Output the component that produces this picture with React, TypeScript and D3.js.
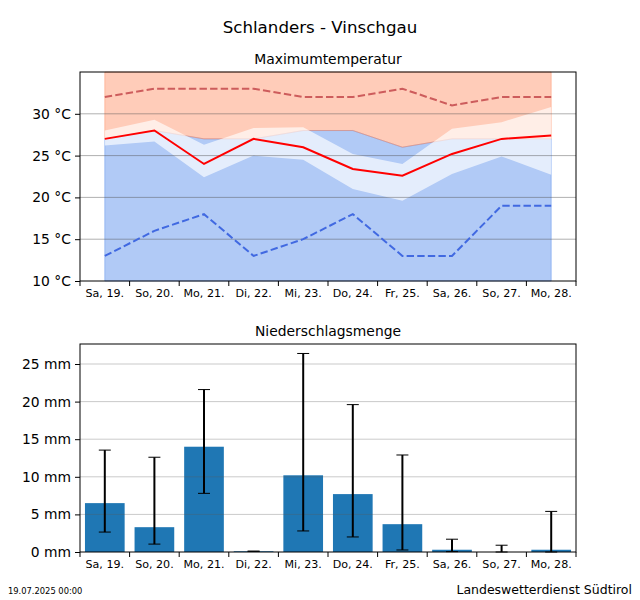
import * as d3 from 'd3';
import React, { useEffect, useRef } from 'react';

const days = ['Sa, 19.', 'So, 20.', 'Mo, 21.', 'Di, 22.', 'Mi, 23.', 'Do, 24.', 'Fr, 25.', 'Sa, 26.', 'So, 27.', 'Mo, 28.'];

// temperature, degrees
const tempMedian = [27, 28, 24, 27, 26, 23.4, 22.6, 25.2, 27, 27.4];
const tempHigh = [32, 33, 33, 33, 32, 32, 33, 31, 32, 32];
const tempLow = [13, 16, 18, 13, 15, 18, 13, 13, 19, 19];
const tempSplit = [27, 28, 27, 27, 28, 28, 26, 27, 27, 27];
const bandLower = [26.2, 26.7, 22.4, 25, 24.5, 21, 19.6, 22.8, 24.9, 22.7];
const bandUpper = [28, 29.3, 26.3, 28.3, 28.4, 25.2, 24, 28.2, 29, 30.8];
const tempTicks = [10, 15, 20, 25, 30];

// precipitation, mm
const rain = [6.5, 3.3, 14, 0.1, 10.2, 7.7, 3.7, 0.3, 0, 0.3];
const rainLower = [2.65, 1.05, 7.8, 0.1, 2.8, 2, 0.27, 0.05, 0, 0];
const rainUpper = [13.55, 12.6, 21.6, 0.1, 26.4, 19.6, 12.9, 1.7, 0.9, 5.4];
const rainTicks = [0, 5, 10, 15, 20, 25];

const FONT = '"DejaVu Sans", sans-serif';

const App = () => {
  const svgRef = useRef<SVGSVGElement | null>(null);

  useEffect(() => {
    if (!svgRef.current) {
      return;
    }
    const svg = d3.select(svgRef.current);
    svg.selectAll('*').remove();
    svg.style('font-family', FONT);

    const x = d3.scaleBand<string>().domain(days).range([80, 576]);
    const cx = (i: number) => (x(days[i]) as number) + x.bandwidth() / 2;
    const yT = d3.scaleLinear().domain([10, 35]).range([281, 72]);
    const yR = d3.scaleLinear().domain([0, 27.66]).range([552, 344]);
    const idx = d3.range(days.length);

    const area = (lo: (i: number) => number, hi: (i: number) => number) =>
      d3.area<number>().x(cx).y0((i) => yT(lo(i))).y1((i) => yT(hi(i)));
    const line = (vals: number[]) => d3.line<number>().x(cx).y((i) => yT(vals[i]));

    const drawFrame = (y: d3.ScaleLinear<number, number>, ticks: number[], unit: string, title: string) => {
      const [bottom, top] = y.range();
      svg.append('rect').attr('x', 80).attr('y', top).attr('width', 496).attr('height', bottom - top)
        .attr('fill', 'none').attr('stroke', '#000').attr('stroke-width', 1);

      const left = svg.append('g').attr('transform', 'translate(80,0)')
        .call(d3.axisLeft(y).tickValues(ticks).tickSize(5).tickPadding(4).tickFormat((d) => `${d} ${unit}`));
      left.select('.domain').remove();
      left.selectAll('.tick text').style('font-size', '13.89px').style('font-family', FONT).attr('fill', '#000');

      const bottomAxis = svg.append('g').attr('transform', `translate(0,${bottom})`)
        .call(d3.axisBottom(x).tickSize(0).tickPadding(8));
      bottomAxis.select('.domain').remove();
      bottomAxis.selectAll('.tick text').style('font-size', '11.1px').style('font-family', FONT).attr('fill', '#000');

      // ticks sit between the days, not under them
      const edges = [...days.map((d) => x(d) as number), 576];
      svg.append('g').selectAll('line').data(edges).enter().append('line')
        .attr('x1', (d) => d).attr('x2', (d) => d)
        .attr('y1', bottom).attr('y2', bottom + 5)
        .attr('stroke', '#000').attr('stroke-width', 1);

      svg.append('text').attr('x', 328).attr('y', top - 8).attr('text-anchor', 'middle')
        .style('font-size', '13.89px').text(title);
    };

    const drawGrid = (y: d3.ScaleLinear<number, number>, ticks: number[], color: string) => {
      svg.append('g').selectAll('line').data(ticks.filter((t) => t > y.domain()[0])).enter().append('line')
        .attr('x1', 80).attr('x2', 576)
        .attr('y1', (d) => y(d)).attr('y2', (d) => y(d))
        .attr('stroke', color).attr('stroke-width', 1);
    };

    // Temperature panel
    svg.append('path').datum(idx).attr('d', area(() => 10, (i) => tempSplit[i]))
      .attr('fill', '#6495ed').attr('fill-opacity', 0.5)
      .attr('stroke', '#6495ed').attr('stroke-opacity', 0.5);
    svg.append('path').datum(idx).attr('d', area((i) => tempSplit[i], () => 35))
      .attr('fill', '#ff7f50').attr('fill-opacity', 0.4)
      .attr('stroke', '#ff7f50').attr('stroke-opacity', 0.4);
    svg.append('path').datum(idx).attr('d', area((i) => bandLower[i], (i) => bandUpper[i]))
      .attr('fill', '#fff').attr('fill-opacity', 0.66);
    drawGrid(yT, tempTicks, 'rgba(80,80,80,0.45)');
    svg.append('path').datum(idx).attr('d', line(tempHigh)).attr('fill', 'none')
      .attr('stroke', '#cd5c5c').attr('stroke-width', 2).attr('stroke-dasharray', '7.4,3.2');
    svg.append('path').datum(idx).attr('d', line(tempLow)).attr('fill', 'none')
      .attr('stroke', '#4169e1').attr('stroke-width', 2).attr('stroke-dasharray', '7.4,3.2');
    svg.append('path').datum(idx).attr('d', line(tempMedian)).attr('fill', 'none')
      .attr('stroke', '#ff0000').attr('stroke-width', 2);
    drawFrame(yT, tempTicks, '°C', 'Maximumtemperatur');

    // Precipitation panel
    const barW = x.bandwidth() * 0.8;
    svg.append('g').selectAll('rect').data(idx).enter().append('rect')
      .attr('x', (i) => cx(i) - barW / 2).attr('width', barW)
      .attr('y', (i) => yR(rain[i])).attr('height', (i) => yR(0) - yR(rain[i]))
      .attr('fill', '#1f77b4');
    drawGrid(yR, rainTicks, 'rgba(90,90,90,0.32)');

    const err = svg.append('g').attr('stroke', '#000');
    idx.forEach((i) => {
      err.append('line').attr('x1', cx(i)).attr('x2', cx(i))
        .attr('y1', yR(rainLower[i])).attr('y2', yR(rainUpper[i])).attr('stroke-width', 2);
      [rainLower[i], rainUpper[i]].forEach((v) => {
        err.append('line').attr('x1', cx(i) - 6).attr('x2', cx(i) + 6)
          .attr('y1', yR(v)).attr('y2', yR(v)).attr('stroke-width', 1);
      });
    });
    drawFrame(yR, rainTicks, 'mm', 'Niederschlagsmenge');

    svg.append('text').attr('x', 320).attr('y', 33).attr('text-anchor', 'middle')
      .style('font-size', '16.67px').text('Schlanders - Vinschgau');
    svg.append('text').attr('x', 8).attr('y', 594).style('font-size', '8.33px').text('19.07.2025 00:00');
    svg.append('text').attr('x', 632).attr('y', 594).attr('text-anchor', 'end')
      .style('font-size', '12.5px').text('Landeswetterdienst Südtirol');
  }, []);

  return <svg ref={svgRef} width={640} height={600} style={{ position: 'absolute', left: 0, top: 0, background: '#fff' }} />;
};

export default App;
